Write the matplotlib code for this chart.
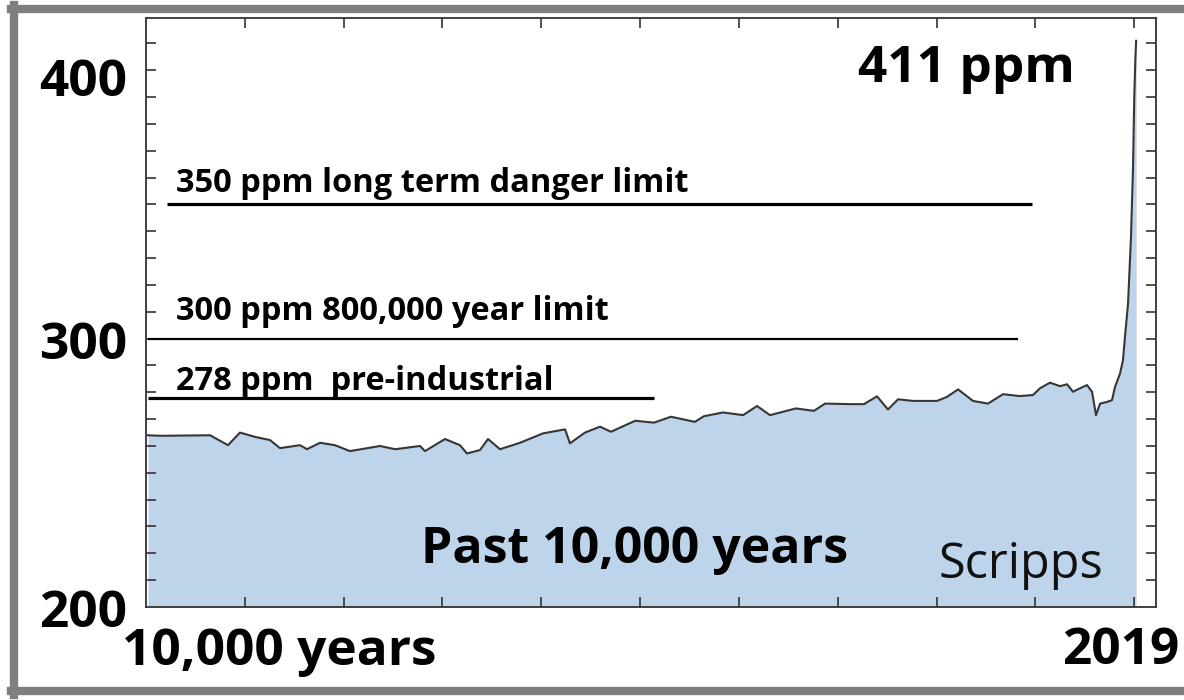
import matplotlib
matplotlib.use("Agg")
from matplotlib import pyplot as plt
from matplotlib.lines import Line2D

# CO2 record, past 10,000 years (year, ppm)
years = [-7980, -7858, -7352, -7170, -7049, -6897, -6745, -6644, -6442, -6371,
         -6239, -6088, -5936, -5632, -5480, -5227, -5177, -4974, -4823, -4752,
         -4620, -4539, -4418, -4215, -3983, -3760, -3710, -3558, -3406, -3295,
         -3050, -2860, -2688, -2446, -2354, -2161, -1958, -1817, -1686, -1423,
         -1241, -1129, -876, -735, -603, -492, -390, -239, 4, 105,
         217, 368, 520, 672, 844, 976, 1046, 1147, 1249, 1320,
         1380, 1451, 1522, 1573, 1613, 1654, 1724, 1775, 1805, 1856,
         1886, 1906, 1937, 1967, 1987, 2000, 2012, 2019]
ppm = [264, 263.8, 264, 260.3, 265, 263.4, 262.2, 259.2, 260.3, 258.8,
       261.2, 260.3, 258.1, 260, 258.8, 260, 258.1, 262.6, 260.3, 257.2,
       258.5, 262.6, 258.8, 261.2, 264.7, 266.2, 261, 265, 267.2, 265.3,
       269.4, 268.7, 270.9, 269, 271.1, 272.5, 271.5, 274.9, 271.5, 274,
       273.1, 275.8, 275.6, 275.6, 278.5, 273.6, 277.4, 276.8, 276.8, 278.3,
       281.1, 276.8, 275.8, 279.3, 278.6, 279, 281.5, 283.6, 282.3, 283,
       280.2, 281.5, 282.7, 280.2, 271.5, 275.8, 276.4, 277.1, 282, 287,
       292, 300.7, 313, 338, 363, 390, 405, 411]

# reference limits
limit_ppm = [350, 300, 278]
limit_start = [-7787, -7980, -7980]
limit_end = [965, 824, -2860]
limit_lw = [2.3, 1.6, 2.3]
limit_labels = ["350 ppm long term danger limit", "300 ppm 800,000 year limit",
                "278 ppm  pre-industrial"]
label_base = [354.6, 306.9, 280.8]

ytick_labels = ["400", "300", "200"]

plt.rcParams['font.family'] = ['Open Sans', 'DejaVu Sans']

W, H = 1184, 700
fig = plt.figure(figsize=(W/100, H/100), dpi=100)
ax = fig.add_axes([146/W, 93/H, 1010/W, 589/H])

def fx(x):
    return x / W

def fy(y):
    return 1 - y / H

ax.fill_between(years, ppm, 200, color="#bed4eb", lw=0)
ax.plot(years, ppm, color="#363636", lw=1.5)

for v, x0, x1, lw in zip(limit_ppm, limit_start, limit_end, limit_lw):
    ax.plot([x0, x1], [v, v], color="black", lw=lw, solid_capstyle="butt")
for txt, y in zip(limit_labels, label_base):
    ax.text(-7700, y, txt, fontsize=23.5, fontweight="bold", va="baseline", ha="left")

ax.set_xlim(-8000, 2220)
ax.set_ylim(200, 419.5)
ax.set_xticks(range(-7000, 2001, 1000))
ax.set_yticks(range(210, 420, 10))
ax.tick_params(direction="in", top=True, right=True, length=7, width=1.2,
               color="#333333", labelbottom=False, labelleft=False)
for s in ax.spines.values():
    s.set_color("#333333")
    s.set_linewidth(1.3)

# big labels
for txt, y in zip(ytick_labels, [96, 359, 627]):
    fig.text(fx(127), fy(y), txt, ha="right", va="baseline", fontsize=37,
             fontweight="bold")
ax.text(1401, 395.5, "411 ppm", ha="right", va="baseline", fontsize=37,
        fontweight="bold")
ax.text(-3052, 216.5, "Past 10,000 years", ha="center", va="baseline",
        fontsize=36, fontweight="bold")
ax.text(1684, 210.8, "Scripps", ha="right", va="baseline", fontsize=35,
        color="#111111")
fig.text(fx(122), fy(665), "10,000 years", ha="left", va="baseline", fontsize=37,
         fontweight="bold")
fig.text(fx(1179), fy(664), "2019", ha="right", va="baseline", fontsize=37,
         fontweight="bold")

# gray frame
fc = "#7f7f7f"
fig.add_artist(Line2D([fx(14), fx(14)], [fy(5), fy(695)], color=fc, lw=6))
fig.add_artist(Line2D([fx(11), 1], [fy(9), fy(9)], color=fc, lw=6))
fig.add_artist(Line2D([fx(11), 1], [fy(691), fy(691)], color=fc, lw=6))

plt.savefig("out.png", dpi=100)
